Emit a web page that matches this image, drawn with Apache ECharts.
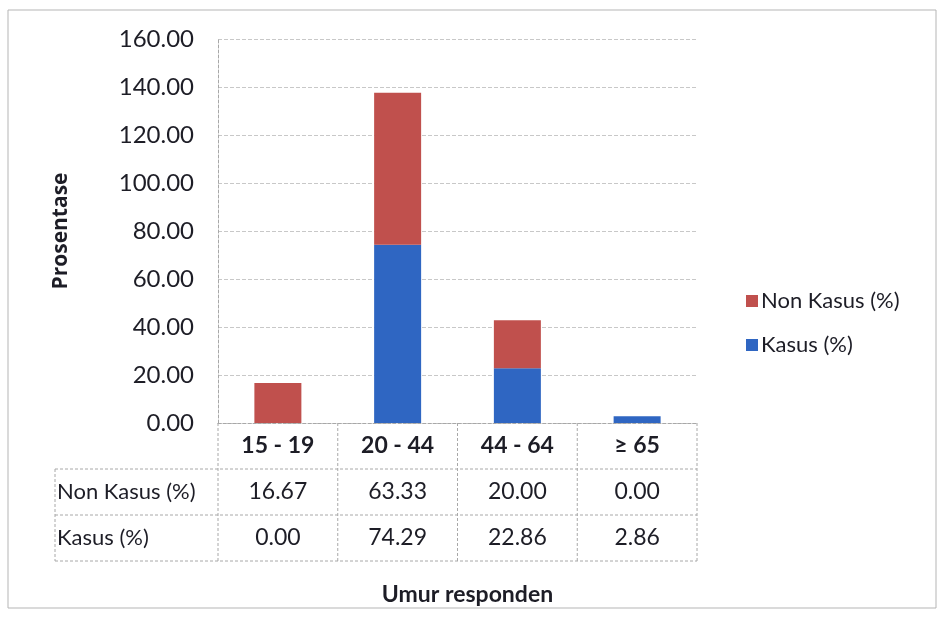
<!DOCTYPE html>
<html>
<head>
<meta charset="utf-8">
<script src="https://cdn.jsdelivr.net/npm/echarts@6/dist/echarts.min.js"></script>
<style>
  html, body { margin: 0; padding: 0; background: #fff; }
  #chart { width: 942px; height: 626px; }
</style>
</head>
<body>
<div id="chart"></div>
<script>
// Age groups of respondents and the two percentage series
const categories = ['15 - 19', '20 - 44', '44 - 64', '\u2265 65'];
const nonKasus = [16.67, 63.33, 20.00, 0.00];
const kasus = [0.00, 74.29, 22.86, 2.86];
const rowNames = ['Non Kasus (%)', 'Kasus (%)'];
const yMax = 160;
const yStep = 20;

const FONT = 'Lato, "Open Sans", sans-serif';
const TXT = '#1d1d26';
const RED = '#c0504d';
const BLUE = '#2f66c2';
const LINE = '#a8a8a8';

// plot area geometry
const G = { left: 218, right: 245, top: 39, bottom: 203 };
const W = 942, H = 626;
const plotL = G.left, plotR = W - G.right, plotB = H - G.bottom;
const rowH = 46;
const tableLeft = 55;

const chart = echarts.init(document.getElementById('chart'));

// data-table grid lines underneath the category axis
function tableGraphics() {
  const els = [];
  const ls = { stroke: LINE, lineWidth: 1, lineDash: [3, 2] };
  const rowTops = [plotB + rowH, plotB + 2 * rowH, plotB + 3 * rowH];
  rowTops.forEach(y => {
    els.push({ type: 'line', shape: { x1: tableLeft, y1: y, x2: plotR, y2: y }, style: ls, silent: true });
  });
  els.push({ type: 'line', shape: { x1: tableLeft, y1: rowTops[0], x2: tableLeft, y2: rowTops[2] }, style: ls, silent: true });
  const cw = (plotR - plotL) / categories.length;
  for (let i = 0; i <= categories.length; i++) {
    const x = plotL + i * cw;
    els.push({ type: 'line', shape: { x1: x, y1: plotB, x2: x, y2: rowTops[2] }, style: ls, silent: true });
  }
  rowNames.forEach((name, i) => {
    els.push({
      type: 'text', silent: true,
      x: tableLeft + 2, y: plotB + rowH * (i + 1) + rowH / 2,
      style: { text: name, fill: TXT, font: '22px ' + FONT, verticalAlign: 'middle', align: 'left' }
    });
  });
  // outer chart border
  els.push({ type: 'rect', shape: { x: 8, y: 10, width: 928, height: 598 },
    style: { fill: 'none', stroke: '#b5b5b5', lineWidth: 1 }, silent: true });
  return els;
}

chart.setOption({
  animation: false,
  backgroundColor: '#fff',
  grid: { left: G.left, right: G.right, top: G.top, bottom: G.bottom, containLabel: false },
  legend: {
    orient: 'vertical',
    left: 741, top: 285,
    itemGap: 22,
    itemWidth: 12, itemHeight: 12,
    icon: 'rect',
    textStyle: { fontFamily: FONT, fontSize: 22, color: TXT, padding: [0, 0, 0, -2] },
    data: ['Non Kasus (%)', 'Kasus (%)']
  },
  xAxis: {
    type: 'category',
    data: categories,
    name: 'Umur responden',
    nameLocation: 'middle',
    nameGap: 160,
    nameTextStyle: { fontFamily: FONT, fontSize: 23, fontWeight: 'bold', color: TXT, padding: [0, 0, 0, 20] },
    axisLine: { show: true, lineStyle: { color: LINE, type: [3, 2] } },
    axisTick: { show: false },
    axisLabel: {
      interval: 0,
      margin: 0,
      fontFamily: FONT, fontSize: 23, color: TXT,
      lineHeight: rowH,
      formatter: function (v, i) {
        return '{h|' + v + '}\n' + nonKasus[i].toFixed(2) + '\n' + kasus[i].toFixed(2);
      },
      rich: {
        h: { fontFamily: FONT, fontSize: 23, fontWeight: 'bold', color: TXT, lineHeight: rowH }
      }
    }
  },
  yAxis: {
    type: 'value',
    min: 0, max: yMax, interval: yStep,
    name: 'Prosentase',
    nameLocation: 'middle',
    nameGap: 146,
    nameRotate: 90,
    nameTextStyle: { fontFamily: '"Open Sans", sans-serif', fontSize: 21, fontWeight: 'bold', color: TXT },
    axisLine: { show: true, lineStyle: { color: LINE, type: [3, 2] } },
    axisTick: { show: false },
    axisLabel: {
      margin: 24,
      fontFamily: FONT, fontSize: 24, color: TXT,
      formatter: v => v.toFixed(2)
    },
    splitLine: { show: true, lineStyle: { color: '#c8c8c8', type: [4, 2] } }
  },
  series: [
    {
      name: 'Kasus (%)', type: 'bar', stack: 'total', data: kasus,
      barWidth: 47, itemStyle: { color: BLUE }
    },
    {
      name: 'Non Kasus (%)', type: 'bar', stack: 'total', data: nonKasus,
      barWidth: 47, itemStyle: { color: RED }
    }
  ],
  graphic: tableGraphics()
});
</script>
</body>
</html>
